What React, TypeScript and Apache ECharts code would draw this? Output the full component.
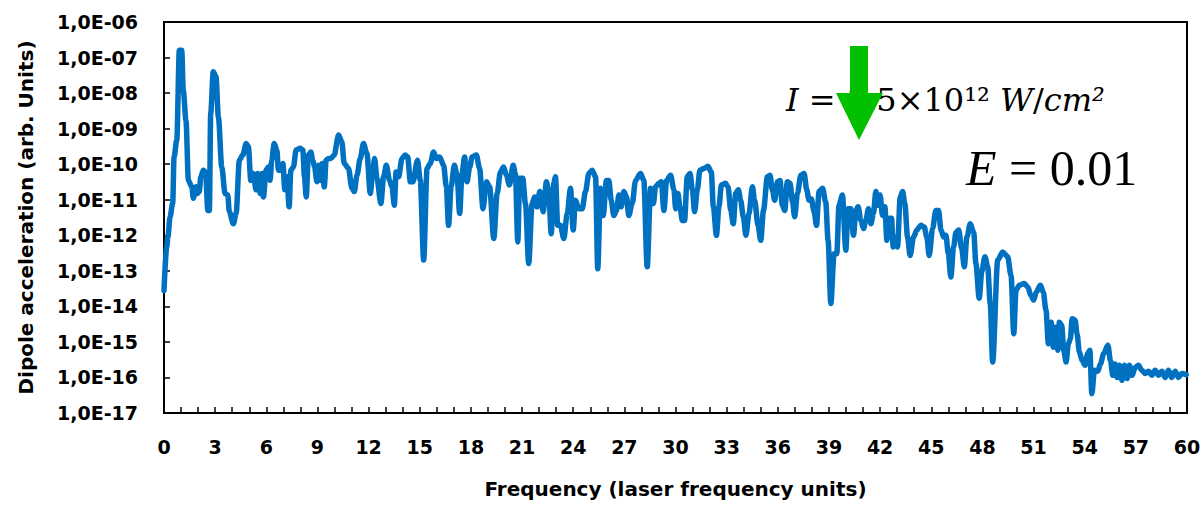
import React, { useEffect, useRef } from "react";
import * as echarts from "echarts";

const freq = [
  0, 0.16, 0.23, 0.35, 0.51, 0.59, 0.75, 0.9, 1.04, 1.13, 1.29, 1.43, 1.63, 1.72, 1.88, 1.96, 2.07, 2.16, 2.31, 2.44,
  2.57, 2.66, 2.74, 2.89, 3.05, 3.19, 3.39, 3.58, 3.74, 3.83, 4.07, 4.23, 4.42, 4.62, 4.82, 4.95, 5.09, 5.24, 5.4, 5.5,
  5.64, 5.74, 5.83, 5.99, 6.12, 6.22, 6.32, 6.46, 6.62, 6.71, 6.85, 6.97, 7.09, 7.21, 7.34, 7.44, 7.59, 7.75, 7.99, 8.14,
  8.24, 8.34, 8.47, 8.61, 8.73, 8.83, 8.97, 9.06, 9.16, 9.28, 9.4, 9.51, 9.65, 9.79, 9.98, 10.24, 10.43, 10.57, 10.82, 11.02,
  11.16, 11.32, 11.51, 11.7, 11.9, 12.1, 12.23, 12.35, 12.49, 12.72, 12.88, 13.04, 13.23, 13.37, 13.51, 13.61, 13.76, 13.96, 14.15, 14.29,
  14.45, 14.6, 14.87, 15.03, 15.23, 15.43, 15.62, 15.81, 15.97, 16.17, 16.4, 16.56, 16.69, 16.84, 17.03, 17.19, 17.34, 17.48, 17.63, 17.77,
  17.93, 18.07, 18.32, 18.51, 18.71, 18.91, 19.1, 19.34, 19.54, 19.73, 19.92, 20.08, 20.26, 20.48, 20.61, 20.75, 20.86, 21.04, 21.2, 21.39,
  21.59, 21.74, 21.88, 22.04, 22.24, 22.43, 22.57, 22.71, 22.86, 22.96, 23.09, 23.25, 23.45, 23.65, 23.84, 24.0, 24.13, 24.33, 24.53, 24.72,
  24.92, 25.11, 25.31, 25.44, 25.6, 25.76, 25.95, 26.09, 26.23, 26.38, 26.54, 26.68, 26.82, 26.97, 27.13, 27.26, 27.46, 27.66, 27.95, 28.14,
  28.34, 28.54, 28.7, 28.83, 29.03, 29.17, 29.32, 29.48, 29.71, 29.91, 30.01, 30.14, 30.26, 30.4, 30.53, 30.69, 30.85, 30.99, 31.12, 31.28,
  31.43, 31.67, 31.9, 32.1, 32.22, 32.4, 32.55, 32.69, 32.94, 33.08, 33.24, 33.39, 33.53, 33.69, 33.82, 33.98, 34.13, 34.31, 34.51, 34.64,
  34.84, 35.0, 35.16, 35.39, 35.54, 35.68, 35.82, 35.98, 36.13, 36.27, 36.41, 36.56, 36.72, 36.86, 36.99, 37.15, 37.35, 37.54, 37.7, 37.83,
  37.97, 38.13, 38.27, 38.42, 38.62, 38.81, 38.95, 39.11, 39.3, 39.46, 39.59, 39.79, 39.99, 40.12, 40.28, 40.44, 40.58, 40.71, 40.87, 41.03,
  41.16, 41.32, 41.46, 41.61, 41.75, 41.89, 42.0, 42.14, 42.28, 42.4, 42.53, 42.67, 42.77, 42.88, 43.02, 43.18, 43.32, 43.45, 43.61, 43.76,
  43.96, 44.16, 44.39, 44.59, 44.74, 44.88, 45.08, 45.27, 45.43, 45.57, 45.73, 45.86, 46.0, 46.15, 46.31, 46.45, 46.61, 46.78, 46.94, 47.09,
  47.29, 47.49, 47.62, 47.81, 47.97, 48.15, 48.31, 48.46, 48.6, 48.9, 49.19, 49.48, 49.68, 49.84, 49.97, 50.16, 50.46, 50.66, 50.85, 51.01,
  51.15, 51.4, 51.57, 51.73, 51.87, 52.03, 52.16, 52.28, 52.42, 52.51, 52.65, 52.77, 52.91, 53.04, 53.16, 53.26, 53.44, 53.55, 53.69, 53.85,
  54.02, 54.18, 54.3, 54.42, 54.57, 54.77, 54.92, 55.12, 55.36, 55.51, 55.65, 55.78, 55.9, 56.04, 56.18, 56.33, 56.49, 56.62, 56.78, 56.96,
  57.15, 57.35, 57.55, 57.74, 57.94, 58.13, 58.33, 58.53, 58.72, 58.91, 59.11, 59.31, 59.5, 59.7, 59.95,
];

const dipole = [
  2.8e-14, 4.7e-13, 8.7e-13, 3.2e-12, 7.9e-12, 1.6e-10, 4.8e-10, 1.6e-7, 1.6e-7, 1.2e-8, 1.7e-9, 3.5e-11, 2.3e-11, 1.1e-11, 2.3e-11, 1.5e-11, 1.7e-11, 4.4e-11, 6.8e-11, 5.9e-11,
  5.0e-12, 5.0e-12, 2.7e-9, 4.0e-8, 2.9e-8, 2.1e-9, 8.3e-11, 1.5e-11, 1.35e-11, 4.6e-12, 2.1e-12, 4.1e-12, 1.3e-10, 1.8e-10, 3.8e-10, 3.1e-10, 3.5e-11, 5.5e-11, 1.9e-11, 5.5e-11,
  1.5e-11, 5.5e-11, 1.2e-11, 6.8e-11, 8.3e-11, 3.5e-11, 1.3e-10, 3.8e-10, 2.5e-10, 6.8e-11, 6.8e-11, 1.05e-10, 1.9e-11, 4.4e-11, 6.3e-12, 6.8e-11, 8.3e-11, 2.5e-10, 2.8e-10, 2.5e-10,
  4.4e-11, 1.2e-11, 1.8e-10, 2.2e-10, 1.3e-10, 8.3e-11, 3.2e-11, 9.3e-11, 3.5e-11, 1.05e-10, 2.3e-11, 1.3e-10, 1.45e-10, 1.45e-10, 1.8e-10, 6.6e-10, 4.3e-10, 1.05e-10, 7.6e-11, 2.1e-11,
  1.7e-11, 4.9e-11, 1.45e-10, 3.8e-10, 2.0e-10, 1.5e-11, 4.9e-11, 1.45e-10, 4.0e-11, 7.8e-12, 4.4e-11, 9.3e-11, 3.5e-11, 2.3e-11, 7.0e-12, 6.0e-11, 4.4e-11, 1.45e-10, 1.8e-10, 1.6e-10,
  3.2e-11, 3.2e-11, 1.3e-10, 3.5e-11, 2.0e-13, 7.6e-11, 1.05e-10, 2.2e-10, 1.45e-10, 1.6e-10, 9.3e-11, 2.3e-11, 1.9e-12, 2.3e-11, 9.3e-11, 4.9e-11, 4.1e-12, 5.5e-11, 1.6e-10, 3.2e-11,
  8.3e-11, 1.6e-10, 1.8e-10, 7.6e-11, 5.6e-12, 3.2e-11, 2.3e-11, 8.1e-13, 1.5e-11, 6.0e-11, 8.3e-11, 4.9e-11, 2.6e-11, 9.3e-11, 5.5e-11, 6.5e-13, 4.0e-11, 4.0e-11, 7.8e-12, 1.6e-13,
  7.8e-12, 1.2e-11, 6.3e-12, 1.7e-11, 4.6e-12, 3.2e-11, 1.5e-11, 1.1e-12, 2.9e-11, 4.4e-11, 1.9e-12, 1.9e-12, 8.1e-13, 4.1e-12, 2.1e-11, 1.4e-12, 9.7e-12, 5.6e-12, 5.6e-12, 1.7e-11,
  5.5e-11, 6.8e-11, 4.4e-11, 1.15e-13, 2.1e-11, 3.6e-12, 3.5e-11, 3.5e-11, 9.7e-12, 3.6e-12, 5.0e-12, 1.35e-11, 6.3e-12, 1.7e-11, 1.2e-11, 3.6e-12, 7.8e-12, 3.5e-11, 5.5e-11, 3.5e-11,
  1.3e-13, 2.1e-11, 7.8e-12, 2.3e-11, 2.9e-11, 3.2e-11, 5.0e-12, 3.5e-11, 4.9e-11, 1.9e-11, 5.6e-12, 1.5e-11, 6.3e-12, 2.6e-12, 2.6e-12, 4.4e-11, 5.5e-11, 1.9e-11, 4.6e-12, 1.9e-11,
  6.8e-11, 7.6e-11, 8.7e-11, 6.0e-11, 6.3e-12, 1.0e-12, 6.3e-12, 2.6e-11, 2.9e-11, 2.3e-11, 5.0e-12, 2.1e-12, 1.5e-11, 1.9e-11, 9.7e-12, 3.3e-12, 1.0e-12, 4.1e-12, 2.3e-11, 9.7e-12,
  1.9e-12, 7.2e-13, 5.0e-12, 4.4e-11, 4.9e-11, 1.9e-11, 9.7e-12, 3.2e-11, 3.5e-11, 7.0e-12, 5.0e-12, 3.2e-11, 2.9e-11, 8.7e-12, 3.3e-12, 1.5e-11, 4.9e-11, 5.5e-11, 1.9e-11, 9.7e-12,
  1.05e-11, 4.6e-12, 1.9e-12, 1.7e-11, 2.1e-11, 8.7e-12, 7.2e-13, 1.2e-14, 3.0e-13, 3.0e-13, 7.0e-12, 1.35e-11, 3.8e-13, 5.6e-12, 5.6e-12, 1.0e-12, 5.0e-12, 6.3e-12, 2.6e-12, 1.55e-12,
  2.6e-12, 5.6e-12, 2.1e-12, 4.1e-12, 1.7e-11, 7.0e-12, 1.35e-11, 3.6e-12, 6.3e-12, 7.2e-13, 3.0e-12, 3.0e-12, 4.7e-13, 8.9e-13, 4.7e-13, 1.2e-11, 1.7e-11, 7.8e-12, 8.9e-13, 2.7e-13,
  8.9e-13, 1.4e-12, 1.9e-12, 1.7e-12, 8.9e-13, 2.7e-13, 1.55e-12, 5.0e-12, 5.0e-12, 1.4e-12, 8.9e-13, 1.0e-12, 3.0e-13, 6.7e-14, 4.7e-13, 1.2e-12, 1.4e-12, 4.3e-13, 1.3e-13, 8.9e-13,
  2.1e-12, 1.2e-12, 1.6e-13, 1.7e-14, 1.0e-13, 2.5e-13, 1.3e-13, 1.2e-14, 2.7e-16, 2.0e-13, 3.4e-13, 2.5e-13, 7.4e-14, 1.7e-15, 2.8e-14, 3.9e-14, 4.4e-14, 3.5e-14, 2.0e-14, 1.5e-14,
  2.5e-14, 3.9e-14, 2.5e-14, 7.8e-15, 8.9e-16, 3.6e-15, 7.1e-16, 2.6e-15, 5.8e-16, 3.6e-15, 2.9e-15, 5.8e-16, 2.7e-16, 8.9e-16, 1.2e-15, 4.5e-15, 4.1e-15, 1.7e-15, 5.1e-16, 3.0e-16,
  2.2e-16, 4.7e-16, 5.8e-16, 3.5e-17, 1.6e-16, 1.5e-16, 2.4e-16, 4.7e-16, 8.0e-16, 3.0e-16, 1.15e-16, 2.4e-16, 1.0e-16, 2.2e-16, 8.3e-17, 2.2e-16, 9.3e-17, 2.2e-16, 1.15e-16, 1.9e-16,
  2.2e-16, 1.6e-16, 1.3e-16, 1.5e-16, 1.15e-16, 1.6e-16, 1.15e-16, 1.5e-16, 1.0e-16, 1.6e-16, 1.0e-16, 1.5e-16, 1.0e-16, 1.3e-16, 1.2e-16,
];

const xTitle = "Frequency (laser frequency units)";
const yTitle = "Dipole acceleration (arb. Units)";

export default function App() {
  const ref = useRef<HTMLDivElement>(null);
  useEffect(() => {
    if (!ref.current) return;
    const chart = echarts.init(ref.current, null, { renderer: "svg" });
    const data = freq.map((f, i) => [f, dipole[i]]);
    const labelFont = { fontFamily: "DejaVu Sans", fontWeight: "bold", color: "#000" };
    chart.setOption({
      animation: false,
      backgroundColor: "#fff",
      grid: {
        left: 164,
        right: 17,
        top: 22,
        bottom: 92,
        show: true,
        borderColor: "#000",
        borderWidth: 2,
        backgroundColor: "transparent",
      },
      xAxis: {
        type: "value",
        min: 0,
        max: 60,
        interval: 3,
        name: xTitle,
        nameLocation: "middle",
        nameGap: 66,
        nameTextStyle: { ...labelFont, fontSize: 20 },
        axisLine: { show: true, lineStyle: { color: "#000", width: 2 } },
        axisTick: { show: true, inside: true, length: 6, lineStyle: { color: "#000", width: 1.5 } },
        minorTick: { show: true, splitNumber: 3, length: 6, lineStyle: { color: "#000", width: 1.5 } },
        axisLabel: { ...labelFont, fontSize: 19, margin: 24 },
        splitLine: { show: false },
      },
      yAxis: {
        type: "log",
        logBase: 10,
        min: 1e-17,
        max: 1e-6,
        interval: 1,
        name: yTitle,
        nameLocation: "middle",
        nameGap: 128,
        nameRotate: 90,
        nameTextStyle: { ...labelFont, fontSize: 20 },
        axisLine: { show: true, lineStyle: { color: "#000", width: 2 } },
        axisTick: { show: true, inside: true, length: 6, lineStyle: { color: "#000", width: 1.5 } },
        axisLabel: {
          ...labelFont,
          fontSize: 19,
          margin: 26,
          padding: [5, 0, 0, 0],
          formatter: (v: number) => {
            const e = Math.round(Math.log10(v));
            return "1,0E-" + String(-e).padStart(2, "0");
          },
        },
        splitLine: { show: false },
      },
      series: [
        {
          type: "line",
          data,
          showSymbol: false,
          symbol: "none",
          smooth: 0.3,
          smoothMonotone: "x",
          lineStyle: { color: "#0070C0", width: 5.5, join: "round", cap: "round" },
          clip: true,
          z: 3,
        },
      ],
      graphic: [
        {
          type: "text",
          z: 10,
          style: {
            x: 786,
            y: 100,
            text: "{it|I} = 1.5×10¹² {it|W}/{it|cm²}",
            fill: "#000",
            fontFamily: "DejaVu Serif",
            fontSize: 32,
            verticalAlign: "middle",
            align: "left",
            rich: {
              it: { fontFamily: "DejaVu Serif", fontStyle: "italic", fontSize: 32, fill: "#000" },
            },
          },
        },
        {
          type: "text",
          z: 10,
          style: {
            x: 966,
            y: 168,
            text: "{it|E} = 0.01",
            fill: "#000",
            fontFamily: "Liberation Serif",
            fontSize: 50,
            verticalAlign: "middle",
            align: "left",
            rich: {
              it: { fontFamily: "Liberation Serif", fontStyle: "italic", fontSize: 50, fill: "#000" },
            },
          },
        },
        {
          type: "polygon",
          z: 20,
          shape: {
            points: [
              [850, 46],
              [868, 46],
              [868, 93],
              [883, 93],
              [859, 140],
              [836, 93],
              [850, 93],
            ],
          },
          style: { fill: "#00C000" },
        },
      ],
    });
    return () => chart.dispose();
  }, []);
  return (
    <div
      ref={ref}
      style={{ position: "fixed", left: 0, top: 0, width: 1204, height: 505 }}
    />
  );
}
